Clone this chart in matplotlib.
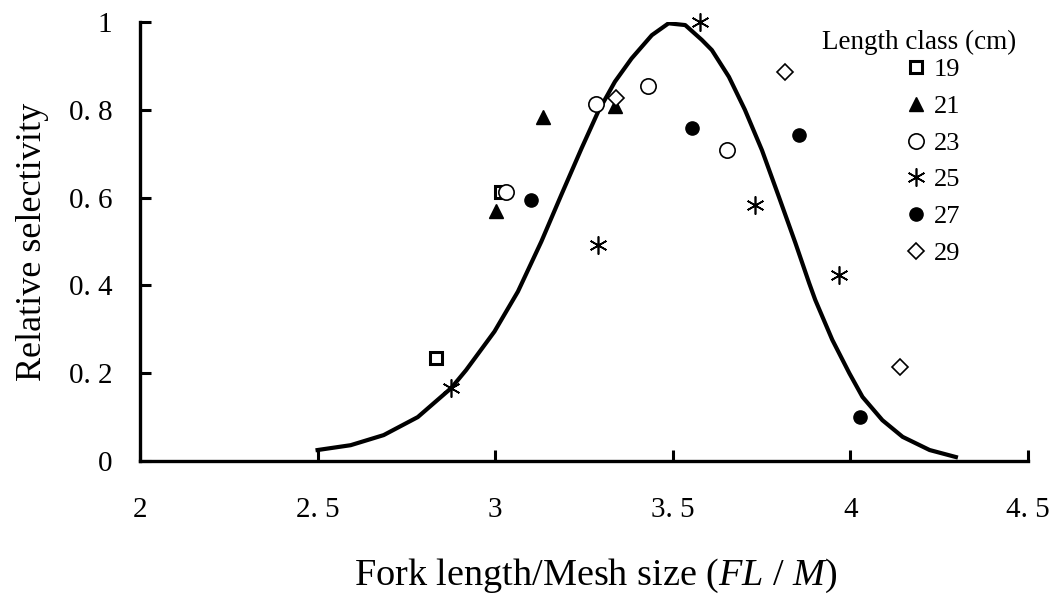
import matplotlib
matplotlib.use("Agg")
import matplotlib.pyplot as plt
from matplotlib.lines import Line2D

plt.rcParams['font.family'] = ['Liberation Serif', 'DejaVu Serif']
plt.rcParams['mathtext.fontset'] = 'custom'
plt.rcParams['mathtext.it'] = 'Liberation Serif:italic'
plt.rcParams['mathtext.rm'] = 'Liberation Serif'

# fitted selectivity curve
curve_x = [2.500, 2.593, 2.686, 2.782, 2.876, 2.918, 2.998, 3.064, 3.130, 3.186,
           3.243, 3.290, 3.337, 3.384, 3.441, 3.488, 3.535, 3.582, 3.610, 3.658,
           3.703, 3.751, 3.799, 3.845, 3.884, 3.901, 3.949, 3.997, 4.034, 4.090,
           4.147, 4.223, 4.297]
curve_y = [0.025, 0.036, 0.059, 0.100, 0.166, 0.207, 0.295, 0.386, 0.500, 0.606,
           0.712, 0.796, 0.864, 0.917, 0.970, 0.997, 0.993, 0.959, 0.936, 0.875,
           0.800, 0.708, 0.601, 0.497, 0.405, 0.367, 0.276, 0.200, 0.146, 0.093,
           0.055, 0.025, 0.009]

# observed selectivity by length class (cm)
cls19_x = [3.017, 2.833]
cls19_y = [0.613, 0.235]
cls21_x = [3.003, 3.135, 3.337]
cls21_y = [0.570, 0.784, 0.809]
cls23_x = [3.031, 3.284, 3.431, 3.653]
cls23_y = [0.613, 0.813, 0.855, 0.708]
cls25_x = [2.876, 3.290, 3.576, 3.732, 3.969]
cls25_y = [0.166, 0.492, 1.000, 0.583, 0.424]
cls27_x = [3.102, 3.554, 3.856, 4.028]
cls27_y = [0.595, 0.759, 0.743, 0.100]
cls29_x = [3.339, 3.816, 4.141]
cls29_y = [0.828, 0.886, 0.214]

class_labels = ['19', '21', '23', '25', '27', '29']
xticks = [2, 2.5, 3, 3.5, 4, 4.5]
xtick_labels = ['2', '2. 5', '3', '3. 5', '4', '4. 5']
yticks = [0, 0.2, 0.4, 0.6, 0.8, 1]
ytick_labels = ['0', '0. 2', '0. 4', '0. 6', '0. 8', '1']

fig = plt.figure(figsize=(10.57, 5.94), dpi=100)
ax = fig.add_axes([140 / 1057, 1 - 461 / 594, 888 / 1057, 439 / 594])

ax.plot(curve_x, curve_y, color='black', lw=3, zorder=2, solid_joinstyle='round')

styles = [
    dict(marker='s', mfc='white', mec='black', mew=2.2, ms=8.5),
    dict(marker='^', mfc='black', mec='black', mew=1, ms=10.5),
    dict(marker='o', mfc='white', mec='black', mew=1.2, ms=11),
    dict(marker=(6, 2, 0), mfc='black', mec='black', mew=1.2, ms=13),
    dict(marker='o', mfc='black', mec='black', mew=1, ms=9.5),
    dict(marker='D', mfc='white', mec='black', mew=1.2, ms=8),
]
series = [(cls19_x, cls19_y), (cls21_x, cls21_y), (cls23_x, cls23_y),
          (cls25_x, cls25_y), (cls27_x, cls27_y), (cls29_x, cls29_y)]

handles = []
for (xs, ys), st, lab in zip(series, styles, class_labels):
    ax.plot(xs, ys, ls='none', zorder=3, clip_on=False, **st)
    handles.append(Line2D([], [], ls='none', label=lab, **st))

ax.set_xlim(2, 4.5)
ax.set_ylim(0, 1)
ax.set_xticks(xticks)
ax.set_xticklabels(xtick_labels)
ax.set_yticks(yticks)
ax.set_yticklabels(ytick_labels)
ax.tick_params(axis='both', direction='in', length=8, width=2.2, labelsize=21, pad=20)
ax.tick_params(axis='x', pad=26)

for side in ['top', 'right']:
    ax.spines[side].set_visible(False)
for side in ['left', 'bottom']:
    ax.spines[side].set_linewidth(2.4)

ax.set_xlabel(r'Fork length/Mesh size ($FL$ / $M$)', fontsize=27.5, labelpad=24)
ax.xaxis.label.set_x(0.513)
ax.set_ylabel('Relative selectivity', fontsize=26, labelpad=14)

# legend title drawn separately so it sits closer to the entries
fig.text(919 / 1057, 1 - 42 / 594, 'Length class (cm)', fontsize=19.5,
         ha='center', va='center')
leg = ax.legend(handles=handles, loc='upper left',
                bbox_to_anchor=(905 / 1057, 1 - 58 / 594), bbox_transform=fig.transFigure,
                frameon=False, fontsize=19, handlelength=0.8,
                handletextpad=0.3, labelspacing=0.5, borderpad=0, borderaxespad=0)

fig.savefig('out.png', dpi=100)
